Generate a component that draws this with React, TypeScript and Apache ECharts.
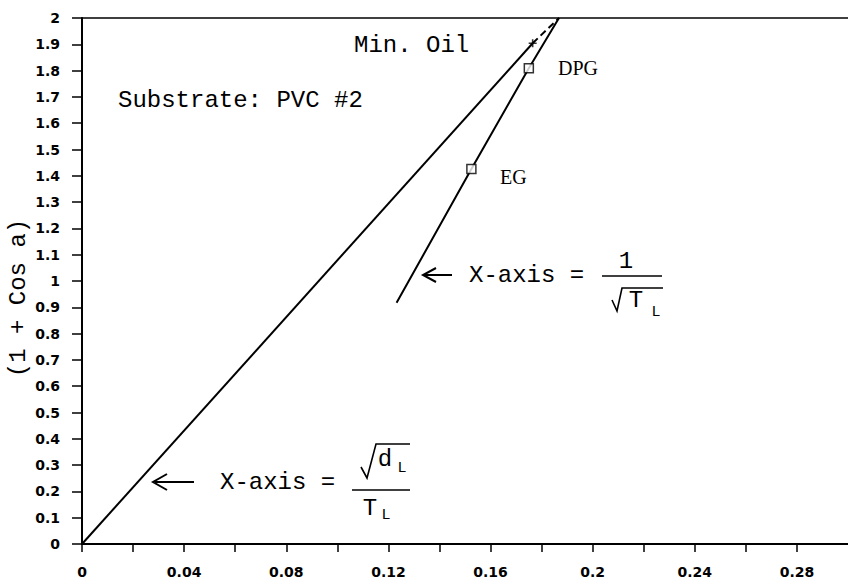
import React, { useEffect, useRef } from "react";
import * as echarts from "echarts";

// ---- data ----
const xTickLabels: string[] = ["0", "0.04", "0.08", "0.12", "0.16", "0.2", "0.24", "0.28"];
const yTickLabels: string[] = [
  "0", "0.1", "0.2", "0.3", "0.4", "0.5", "0.6", "0.7", "0.8", "0.9",
  "1", "1.1", "1.2", "1.3", "1.4", "1.5", "1.6", "1.7", "1.8", "1.9", "2",
];
// Min. Oil line (X-axis = sqrt(dL)/TL)
const minOilSolid: number[][] = [[0, 0], [0.1765, 1.904]];
const minOilDashed: number[][] = [[0.1765, 1.904], [0.1868, 2]];
const minOilPoint: number[][] = [[0.1765, 1.904]];
// EG / DPG line (X-axis = 1/sqrt(TL))
const glycolLine: number[][] = [[0.1232, 0.917], [0.1525, 1.426], [0.175, 1.809], [0.1868, 2]];
const glycolPoints: number[][] = [[0.1525, 1.426], [0.175, 1.809]];
const glycolNames: string[] = ["EG", "DPG"];

const MONO = "'Liberation Mono', 'DejaVu Sans Mono', monospace";
const SERIF = "'Liberation Serif', 'DejaVu Serif', serif";
const SANS = "'DejaVu Sans', 'Liberation Sans', sans-serif";

export default function App() {
  const ref = useRef<HTMLDivElement>(null);
  useEffect(() => {
    if (!ref.current) return;
    const chart = echarts.init(ref.current, undefined, { renderer: "svg" });
    const black = "#000";
    const txt = (text: string, x: number, y: number, size: number, family: string, align = "left") => ({
      type: "text",
      x,
      y,
      style: { text, fontSize: size, fontFamily: family, fill: black, align, verticalAlign: "middle" },
    });
    const ln = (x1: number, y1: number, x2: number, y2: number, w = 1.6) => ({
      type: "line",
      shape: { x1, y1, x2, y2 },
      style: { stroke: black, lineWidth: w },
    });
    const pl = (points: number[][], w = 1.6) => ({
      type: "polyline",
      shape: { points },
      style: { stroke: black, lineWidth: w, fill: "none" },
    });

    chart.setOption({
      animation: false,
      backgroundColor: "#fff",
      grid: { left: 82, right: 0, top: 18, bottom: 34, containLabel: false },
      xAxis: [
        {
          type: "value",
          min: 0,
          max: 0.3,
          interval: 0.02,
          axisLine: { show: true, onZero: false, lineStyle: { color: black, width: 2 } },
          axisTick: { show: true, inside: false, length: 8, lineStyle: { color: black, width: 1.5 } },
          axisLabel: {
            margin: 21,
            color: black,
            fontFamily: SANS,
            fontWeight: "bold",
            fontSize: 14,
            showMaxLabel: false,
            formatter: (v: number) => {
              const k = Math.round(v / 0.02);
              return k % 2 === 0 ? xTickLabels[k / 2] ?? "" : "";
            },
          },
          splitLine: { show: false },
        },
        {
          type: "value",
          position: "top",
          min: 0,
          max: 0.3,
          axisLine: { show: true, onZero: false, lineStyle: { color: black, width: 1.5 } },
          axisTick: { show: false },
          axisLabel: { show: false },
          splitLine: { show: false },
        },
      ],
      yAxis: {
        type: "value",
        min: 0,
        max: 2,
        interval: 0.1,
        axisLine: { show: true, onZero: false, lineStyle: { color: black, width: 2 } },
        axisTick: { show: true, inside: false, length: 10, lineStyle: { color: black, width: 1.5 } },
        axisLabel: {
          margin: 22,
          color: black,
          fontFamily: SANS,
          fontWeight: "bold",
          fontSize: 14,
          formatter: (v: number) => yTickLabels[Math.round(v * 10)] ?? "",
        },
        splitLine: { show: false },
      },
      series: [
        {
          name: "Min. Oil",
          type: "line",
          data: minOilSolid,
          showSymbol: false,
          symbol: "none",
          lineStyle: { color: black, width: 2 },
        },
        {
          name: "Min. Oil extrapolated",
          type: "line",
          data: minOilDashed,
          symbol: "none",
          lineStyle: { color: black, width: 2, type: [7, 4] },
        },
        {
          name: "Min. Oil point",
          type: "scatter",
          data: minOilPoint,
          symbol: "path://M4,0H6V4H10V6H6V10H4V6H0V4H4Z",
          symbolSize: 8,
          itemStyle: { color: black },
        },
        {
          name: "Glycols",
          type: "line",
          data: glycolLine,
          symbol: "none",
          lineStyle: { color: black, width: 2 },
        },
        {
          name: "Glycol points",
          type: "scatter",
          data: glycolPoints.map((p, i) => ({ value: p, name: glycolNames[i] })),
          symbol: "rect",
          symbolSize: 9,
          itemStyle: { color: "#fff", borderColor: black, borderWidth: 1.5 },
          z: 5,
        },
      ],
      graphic: [
        {
          type: "text",
          x: 18,
          y: 298,
          rotation: Math.PI / 2,
          style: { text: "(1 + Cos a)", fontSize: 24, fontFamily: MONO, fill: black, align: "center", verticalAlign: "middle" },
        },
        txt("Min. Oil", 354, 45, 24, MONO),
        txt("Substrate: PVC #2", 118, 100, 24, MONO),
        txt("DPG", 558, 68, 20, SERIF),
        txt("EG", 500, 177, 20, SERIF),
        // formula 1: X-axis = 1 / sqrt(T_L)
        ln(424, 275, 452, 275, 2),
        pl([[436, 268], [423, 275], [436, 282]], 2),
        txt("X-axis =", 469, 275, 24, MONO),
        ln(602, 276, 662, 276, 1.6),
        txt("1", 626, 261, 24, MONO, "center"),
        pl([[612, 300], [617, 311], [622, 288], [663, 288]], 1.6),
        txt("T", 636, 300, 24, MONO, "center"),
        txt("L", 656, 312, 15, MONO, "center"),
        // formula 2: X-axis = sqrt(d_L) / T_L
        ln(155, 482, 194, 482, 2),
        pl([[167, 474], [153, 482], [167, 490]], 2),
        txt("X-axis =", 220, 482, 24, MONO),
        ln(352, 490, 410, 490, 1.6),
        pl([[361, 467], [367, 478], [376, 444], [410, 444]], 1.6),
        txt("d", 385, 459, 24, MONO, "center"),
        txt("L", 402, 468, 15, MONO, "center"),
        txt("T", 370, 508, 24, MONO, "center"),
        txt("L", 386, 515, 15, MONO, "center"),
      ],
    });
    return () => chart.dispose();
  }, []);
  return <div ref={ref} style={{ position: "absolute", left: 0, top: 0, width: 848, height: 579 }} />;
}
